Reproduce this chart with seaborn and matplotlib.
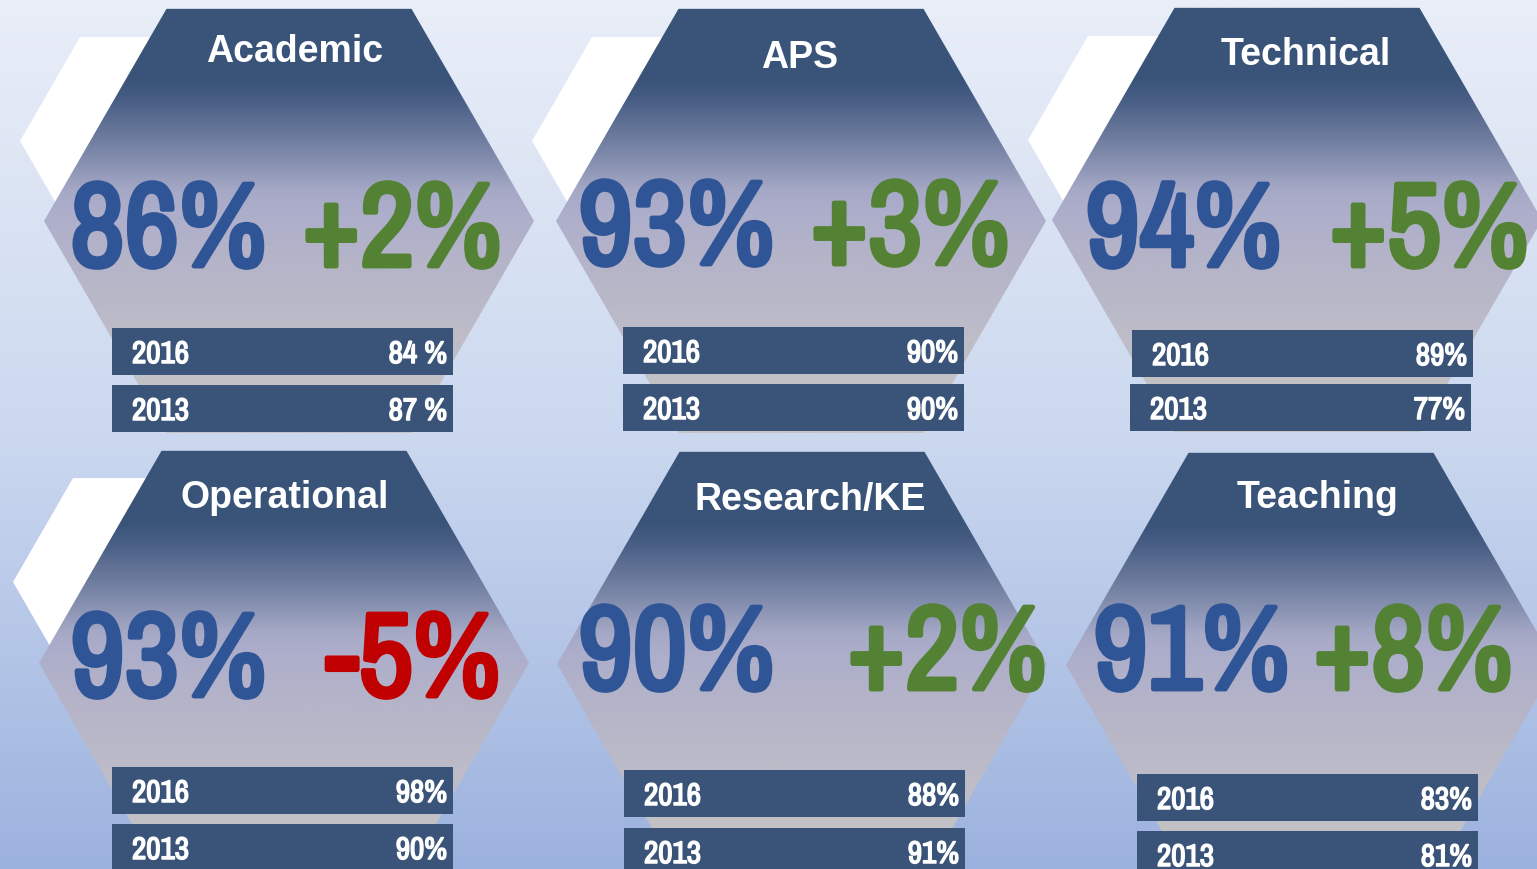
import os
import numpy as np
import matplotlib
matplotlib.use("Agg")
import matplotlib.pyplot as plt
import matplotlib.patheffects as pe
import seaborn as sns
from matplotlib import font_manager
from matplotlib.colors import LinearSegmentedColormap
from matplotlib.patches import Polygon, Rectangle

# staff survey groups, overall score and change since 2013
GROUPS = ["Academic", "APS", "Technical", "Operational", "Research/KE", "Teaching"]
OVERALL = [86, 93, 94, 93, 90, 91]
CHANGE = [2, 3, 5, -5, 2, 8]
LABELS_2016 = ["84 %", "90%", "89%", "98%", "88%", "83%"]
LABELS_2013 = ["87 %", "90%", "77%", "90%", "91%", "81%"]
YEARS = ["2016", "2013"]

# layout in pixel coords (y grows downwards)
HEX_CENTERS = [(289, 222), (801, 222), (1297, 221), (284, 664), (802, 665), (1311, 666)]
HEX_R = 245
WHITE_HEX = [(140, 142), (652, 142), (1148, 141), (133, 583)]
WHITE_R = 120
TITLE_POS = [(295, 62), (800, 68), (1306, 65), (285, 508), (810, 510), (1318, 508)]
BIG_LEFT = [168, 676, 1183, 168, 676, 1191]
BIG_RIGHT = [402, 910, 1429, 413, 947, 1413]
BIG_BASE = [267, 265, 267, 697, 690, 690]
BAR_X = [(112, 112), (623, 623), (1132, 1130), (112, 112), (624, 624), (1137, 1137)]
BAR_Y = [(329, 386), (328, 385), (331, 385), (768, 825), (771, 829), (775, 832)]
BAR_W, BAR_H = 341, 47

NAVY = "#3a5479"
BLUE = "#2f5597"
GREEN = "#548235"
RED = "#c00000"

sns.set_style("white")
plt.rcParams["font.family"] = ["Liberation Sans", "DejaVu Sans"]


def pick_narrow():
    # Arial Narrow lookalike; regular weight is thickened with a stroke below
    files = set(f.fname for f in font_manager.fontManager.ttflist)
    files |= set(font_manager.findSystemFonts())
    for want, stroke in [("archivonarrow[wght]", True), ("liberationsansnarrow-bold", False),
                         ("opensans-condbold", False), ("dejavusanscondensed-bold", False)]:
        for f in files:
            if os.path.basename(f).lower().startswith(want):
                return f, stroke
    return None, False


NARROW_FILE, FAKE_BOLD = pick_narrow()


def narrow(size):
    if NARROW_FILE:
        return font_manager.FontProperties(fname=NARROW_FILE, size=size)
    return font_manager.FontProperties(family="DejaVu Sans", weight="bold", size=size)


def bold_fx(color, lw):
    return [pe.withStroke(linewidth=lw, foreground=color)] if FAKE_BOLD else []


bg_cmap = LinearSegmentedColormap.from_list(
    "bg", [(0, "#e9eef8"), (0.5, "#cbd8ef"), (1, "#9cb2de")])
hex_cmap = LinearSegmentedColormap.from_list("hx", [
    (0.00, NAVY), (0.17, NAVY), (0.22, "#4a5f86"), (0.30, "#6b7a9c"),
    (0.37, "#8a93b3"), (0.43, "#a6a9c6"), (0.48, "#adaecb"), (0.60, "#b5b4c8"),
    (0.75, "#bcbbc8"), (0.88, "#c2c2c6"), (1.00, "#c4c4c4")])
ramp = np.linspace(0, 1, 256).reshape(-1, 1)


def hexagon(cx, cy, r):
    h = r * np.sqrt(3) / 2
    return [(cx - r, cy), (cx - r / 2, cy - h), (cx + r / 2, cy - h),
            (cx + r, cy), (cx + r / 2, cy + h), (cx - r / 2, cy + h)]


fig = plt.figure(figsize=(15.37, 8.70), dpi=100)
ax = fig.add_axes([0, 0, 1, 1])
ax.imshow(ramp, cmap=bg_cmap, extent=(0, 1537, 870, 0), origin="upper",
          aspect="auto", zorder=0)

for cx, cy in WHITE_HEX:
    ax.add_patch(Polygon(hexagon(cx, cy, WHITE_R), closed=True, fc="white", ec="none", zorder=1))

for i, name in enumerate(GROUPS):
    cx, cy = HEX_CENTERS[i]
    h = HEX_R * np.sqrt(3) / 2
    poly = Polygon(hexagon(cx, cy, HEX_R), closed=True, fc="none", ec="none", zorder=2)
    ax.add_patch(poly)
    im = ax.imshow(ramp, cmap=hex_cmap, extent=(cx - HEX_R, cx + HEX_R, cy + h, cy - h),
                   origin="upper", aspect="auto", zorder=2)
    im.set_clip_path(poly)

    tx, ty = TITLE_POS[i]
    ax.text(tx, ty, name, color="white", fontsize=27, fontweight="bold",
            ha="center", va="baseline", zorder=5)

    ccol = GREEN if CHANGE[i] >= 0 else RED
    ax.text(BIG_LEFT[i], BIG_BASE[i], f"{OVERALL[i]}%", color=BLUE,
            fontproperties=narrow(86), ha="center", va="baseline", zorder=5,
            path_effects=bold_fx(BLUE, 3.5))
    ax.text(BIG_RIGHT[i], BIG_BASE[i], f"{CHANGE[i]:+d}%", color=ccol,
            fontproperties=narrow(86), ha="center", va="baseline", zorder=5,
            path_effects=bold_fx(ccol, 3.5))

    for j, lab in enumerate([LABELS_2016[i], LABELS_2013[i]]):
        bx, by = BAR_X[i][j], BAR_Y[i][j]
        ax.add_patch(Rectangle((bx, by), BAR_W, BAR_H, fc=NAVY, ec="none", zorder=3))
        ax.text(bx + 20, by + 35, YEARS[j], color="white", fontproperties=narrow(22.5),
                ha="left", va="baseline", zorder=5, path_effects=bold_fx("white", 1.1))
        ax.text(bx + BAR_W - 6, by + 35, lab, color="white", fontproperties=narrow(22.5),
                ha="right", va="baseline", zorder=5, path_effects=bold_fx("white", 1.1))

ax.set_xlim(0, 1537)
ax.set_ylim(870, 0)
ax.axis("off")
fig.savefig("out.png", dpi=100)
